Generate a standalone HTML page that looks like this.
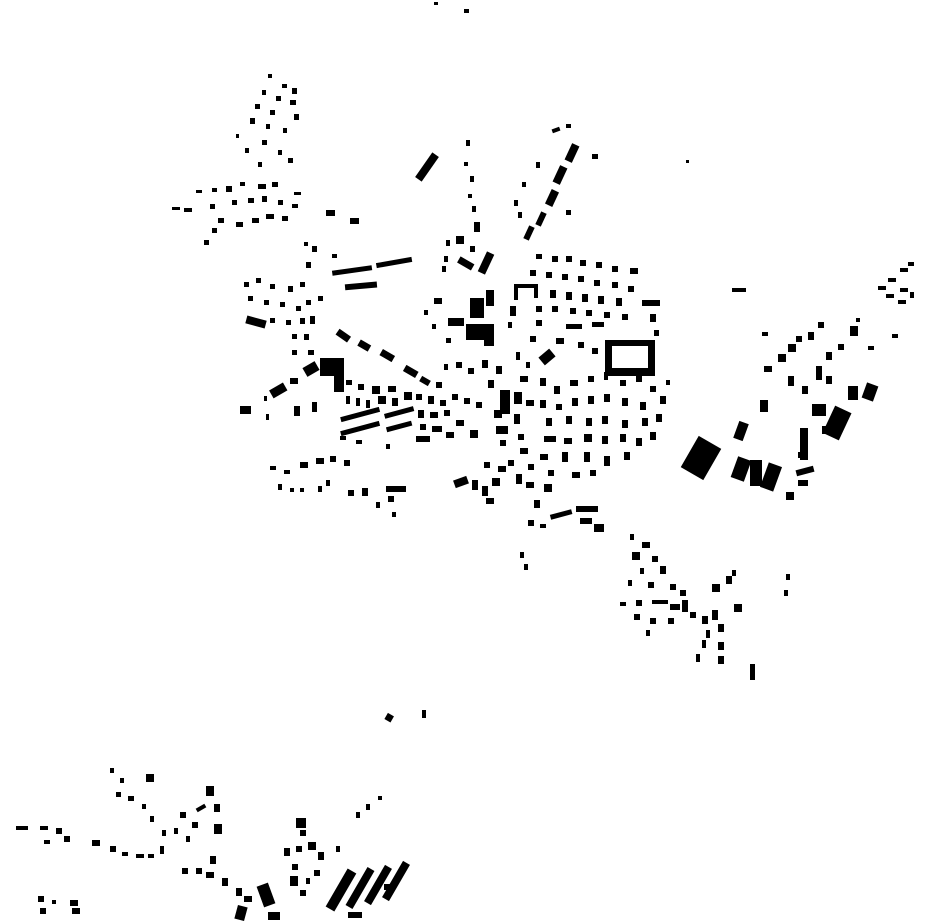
<!DOCTYPE html>
<html><head><meta charset="utf-8"><style>html,body{margin:0;padding:0;background:#fff}svg{display:block}</style></head>
<body>
<svg width="930" height="924" viewBox="0 0 930 924" xmlns="http://www.w3.org/2000/svg" fill="#000">
<!-- top -->
<rect x="434" y="2" width="4" height="3"/><rect x="464" y="9" width="5" height="4"/>
<!-- NW cluster -->
<g>
<rect x="268" y="74" width="4" height="4"/><rect x="282" y="84" width="5" height="4"/><rect x="292" y="88" width="5" height="6"/>
<rect x="262" y="90" width="4" height="5"/><rect x="276" y="96" width="5" height="5"/><rect x="290" y="100" width="6" height="5"/>
<rect x="255" y="104" width="5" height="5"/><rect x="270" y="110" width="5" height="5"/><rect x="294" y="114" width="5" height="6"/>
<rect x="250" y="118" width="5" height="6"/><rect x="266" y="124" width="4" height="5"/><rect x="283" y="128" width="4" height="5"/>
<rect x="245" y="148" width="4" height="5"/><rect x="262" y="140" width="5" height="5"/><rect x="278" y="150" width="4" height="5"/>
<rect x="258" y="162" width="4" height="5"/><rect x="288" y="158" width="5" height="5"/><rect x="236" y="134" width="3" height="4"/>
<rect x="172" y="207" width="8" height="3"/><rect x="184" y="208" width="8" height="4"/><rect x="196" y="190" width="6" height="3"/>
<rect x="212" y="188" width="5" height="4"/><rect x="226" y="186" width="6" height="6"/><rect x="240" y="182" width="5" height="4"/>
<rect x="258" y="184" width="8" height="5"/><rect x="272" y="182" width="6" height="5"/><rect x="294" y="192" width="7" height="3"/>
<rect x="210" y="204" width="5" height="5"/><rect x="232" y="200" width="5" height="5"/><rect x="248" y="198" width="6" height="5"/>
<rect x="262" y="196" width="5" height="6"/><rect x="278" y="200" width="5" height="5"/><rect x="292" y="204" width="6" height="4"/>
<rect x="218" y="218" width="6" height="5"/><rect x="236" y="222" width="7" height="5"/><rect x="252" y="218" width="7" height="5"/>
<rect x="266" y="214" width="8" height="5"/><rect x="282" y="216" width="6" height="5"/><rect x="204" y="240" width="5" height="5"/>
<rect x="212" y="228" width="5" height="5"/><rect x="326" y="210" width="9" height="6"/><rect x="350" y="218" width="9" height="6"/>
</g>
<!-- west central -->
<g>
<rect x="304" y="242" width="4" height="4"/><rect x="312" y="246" width="5" height="6"/><rect x="306" y="262" width="5" height="6"/>
<rect x="332" y="254" width="5" height="4"/><rect x="332" y="268" width="40" height="5" transform="rotate(-8 352 270)"/>
<rect x="376" y="260" width="36" height="5" transform="rotate(-10 394 262)"/><rect x="345" y="283" width="32" height="6" transform="rotate(-5 360 286)"/>
<rect x="244" y="282" width="5" height="5"/><rect x="256" y="278" width="5" height="5"/><rect x="270" y="284" width="5" height="5"/>
<rect x="288" y="286" width="5" height="6"/><rect x="300" y="282" width="5" height="5"/><rect x="318" y="296" width="5" height="5"/>
<rect x="248" y="296" width="5" height="5"/><rect x="264" y="300" width="5" height="5"/><rect x="280" y="302" width="5" height="5"/>
<rect x="296" y="306" width="5" height="5"/><rect x="306" y="300" width="5" height="5"/><rect x="246" y="318" width="20" height="8" transform="rotate(15 256 322)"/>
<rect x="270" y="318" width="5" height="5"/><rect x="286" y="320" width="5" height="5"/><rect x="300" y="318" width="5" height="6"/>
<rect x="310" y="316" width="5" height="8"/><rect x="292" y="334" width="5" height="5"/><rect x="304" y="334" width="5" height="6"/>
<rect x="292" y="350" width="5" height="5"/><rect x="308" y="350" width="6" height="5"/><rect x="336" y="332" width="14" height="7" transform="rotate(35 343 336)"/>
<rect x="358" y="342" width="12" height="7" transform="rotate(30 364 346)"/><rect x="380" y="352" width="14" height="7" transform="rotate(30 387 356)"/>
<rect x="320" y="358" width="24" height="18"/><rect x="334" y="374" width="10" height="18"/><rect x="304" y="364" width="14" height="10" transform="rotate(-30 311 369)"/>
<rect x="270" y="386" width="16" height="9" transform="rotate(-30 278 390)"/><rect x="290" y="378" width="8" height="6"/>
<rect x="240" y="406" width="11" height="8"/><rect x="266" y="414" width="3" height="6"/><rect x="294" y="406" width="6" height="10"/>
<rect x="312" y="402" width="5" height="10"/><rect x="264" y="396" width="3" height="5"/>
</g>
<!-- centre dense -->
<g>
<rect x="346" y="380" width="6" height="5"/><rect x="358" y="384" width="6" height="6"/><rect x="372" y="386" width="8" height="8"/>
<rect x="388" y="386" width="8" height="6"/><rect x="404" y="368" width="14" height="7" transform="rotate(30 411 371)"/>
<rect x="420" y="378" width="10" height="6" transform="rotate(30 425 381)"/><rect x="436" y="382" width="6" height="6"/>
<rect x="346" y="396" width="4" height="8"/><rect x="356" y="398" width="4" height="8"/><rect x="366" y="400" width="4" height="8"/>
<rect x="378" y="396" width="8" height="8"/><rect x="392" y="398" width="6" height="8"/><rect x="404" y="392" width="8" height="8"/>
<rect x="416" y="394" width="6" height="6"/><rect x="428" y="396" width="6" height="8"/><rect x="440" y="400" width="6" height="6"/>
<rect x="452" y="394" width="6" height="6"/><rect x="464" y="398" width="6" height="6"/><rect x="476" y="402" width="6" height="6"/>
<rect x="340" y="412" width="40" height="5" transform="rotate(-15 360 414)"/><rect x="384" y="410" width="30" height="5" transform="rotate(-15 399 412)"/>
<rect x="418" y="410" width="6" height="8"/><rect x="430" y="412" width="8" height="6"/><rect x="444" y="410" width="6" height="6"/>
<rect x="340" y="426" width="40" height="5" transform="rotate(-15 360 428)"/><rect x="386" y="424" width="26" height="5" transform="rotate(-15 399 426)"/>
<rect x="420" y="424" width="6" height="6"/><rect x="432" y="426" width="10" height="6"/><rect x="456" y="420" width="8" height="6"/>
<rect x="340" y="436" width="6" height="4"/><rect x="356" y="440" width="6" height="4"/><rect x="416" y="436" width="14" height="6"/>
<rect x="446" y="432" width="8" height="6"/><rect x="470" y="430" width="8" height="8"/><rect x="386" y="444" width="4" height="5"/>
<rect x="444" y="364" width="4" height="6"/><rect x="456" y="362" width="6" height="6"/><rect x="468" y="368" width="6" height="6"/>
<rect x="482" y="360" width="6" height="8"/><rect x="496" y="366" width="6" height="8"/><rect x="488" y="380" width="6" height="8"/>
<rect x="500" y="390" width="10" height="24"/><rect x="494" y="410" width="8" height="8"/><rect x="514" y="392" width="8" height="12"/>
<rect x="496" y="426" width="12" height="8"/><rect x="514" y="414" width="6" height="10"/><rect x="526" y="400" width="8" height="6"/>
<rect x="500" y="440" width="6" height="6"/><rect x="518" y="434" width="6" height="6"/><rect x="540" y="352" width="14" height="10" transform="rotate(-40 547 357)"/>
<rect x="516" y="352" width="4" height="8"/><rect x="526" y="362" width="4" height="6"/><rect x="520" y="376" width="8" height="6"/>
</g>
<!-- north central -->
<g>
<rect x="423" y="152" width="8" height="30" transform="rotate(35 427 167)"/><rect x="466" y="140" width="4" height="6"/>
<rect x="464" y="162" width="4" height="4"/><rect x="470" y="176" width="4" height="6"/><rect x="468" y="194" width="4" height="4"/>
<rect x="472" y="206" width="4" height="6"/><rect x="474" y="222" width="6" height="10"/><rect x="456" y="236" width="8" height="8"/>
<rect x="446" y="240" width="4" height="6"/><rect x="444" y="256" width="4" height="6"/><rect x="442" y="266" width="4" height="6"/>
<rect x="458" y="260" width="16" height="7" transform="rotate(30 466 263)"/><rect x="482" y="252" width="8" height="22" transform="rotate(25 486 263)"/>
<rect x="470" y="246" width="5" height="6"/><rect x="434" y="298" width="8" height="6"/><rect x="424" y="310" width="4" height="5"/>
<rect x="470" y="298" width="14" height="20"/><rect x="486" y="290" width="8" height="16"/><rect x="448" y="318" width="16" height="8"/>
<rect x="466" y="324" width="28" height="16"/><rect x="484" y="334" width="10" height="12"/><rect x="446" y="338" width="5" height="5"/>
<rect x="432" y="324" width="4" height="5"/><rect x="510" y="306" width="6" height="10"/><rect x="508" y="322" width="4" height="6"/>
<rect x="552" y="128" width="8" height="4" transform="rotate(-20 556 130)"/><rect x="566" y="124" width="5" height="4"/>
<rect x="568" y="144" width="8" height="18" transform="rotate(25 572 153)"/><rect x="592" y="154" width="6" height="5"/>
<rect x="556" y="166" width="8" height="18" transform="rotate(25 560 175)"/><rect x="548" y="190" width="8" height="16" transform="rotate(25 552 198)"/>
<rect x="538" y="212" width="6" height="14" transform="rotate(25 541 219)"/><rect x="526" y="226" width="6" height="14" transform="rotate(25 529 233)"/>
<rect x="536" y="162" width="4" height="6"/><rect x="522" y="182" width="4" height="5"/><rect x="514" y="200" width="4" height="6"/>
<rect x="518" y="212" width="4" height="6"/><rect x="566" y="210" width="5" height="5"/><rect x="686" y="160" width="3" height="3"/>
</g>
<!-- NE of centre grid -->
<g>
<rect x="536" y="254" width="6" height="5"/><rect x="552" y="256" width="6" height="6"/><rect x="566" y="256" width="6" height="6"/>
<rect x="580" y="260" width="6" height="6"/><rect x="596" y="262" width="6" height="6"/><rect x="612" y="266" width="6" height="6"/>
<rect x="630" y="268" width="8" height="6"/><rect x="530" y="270" width="6" height="6"/><rect x="546" y="272" width="6" height="6"/>
<rect x="562" y="274" width="6" height="6"/><rect x="578" y="276" width="6" height="6"/><rect x="594" y="280" width="6" height="6"/>
<rect x="612" y="282" width="6" height="6"/><rect x="628" y="286" width="6" height="6"/><rect x="514" y="284" width="24" height="4"/>
<rect x="514" y="284" width="4" height="16"/><rect x="534" y="284" width="4" height="14"/><rect x="550" y="290" width="6" height="8"/>
<rect x="566" y="292" width="6" height="8"/><rect x="582" y="294" width="6" height="8"/><rect x="598" y="296" width="6" height="8"/>
<rect x="616" y="298" width="6" height="8"/><rect x="642" y="300" width="18" height="6"/><rect x="536" y="306" width="6" height="6"/>
<rect x="552" y="306" width="6" height="6"/><rect x="570" y="308" width="6" height="6"/><rect x="586" y="310" width="6" height="6"/>
<rect x="604" y="312" width="6" height="6"/><rect x="622" y="314" width="6" height="6"/><rect x="650" y="314" width="6" height="8"/>
<rect x="536" y="320" width="6" height="6"/><rect x="566" y="324" width="16" height="5"/><rect x="592" y="322" width="12" height="5"/>
<rect x="530" y="336" width="6" height="6"/><rect x="556" y="338" width="8" height="6"/><rect x="578" y="342" width="6" height="6"/>
<rect x="592" y="348" width="6" height="6"/><rect x="654" y="330" width="5" height="6"/><rect x="732" y="288" width="14" height="4"/>
<path d="M605 340h50v36h-50zM612 346v22h36v-22z" fill-rule="evenodd"/>
</g>
<!-- SE of centre -->
<g>
<rect x="540" y="378" width="6" height="8"/><rect x="554" y="386" width="6" height="8"/><rect x="570" y="380" width="8" height="6"/>
<rect x="588" y="376" width="6" height="6"/><rect x="604" y="372" width="4" height="8"/><rect x="620" y="380" width="6" height="6"/>
<rect x="636" y="376" width="6" height="6"/><rect x="650" y="386" width="6" height="6"/><rect x="666" y="380" width="4" height="5"/>
<rect x="540" y="400" width="6" height="8"/><rect x="556" y="404" width="6" height="6"/><rect x="572" y="398" width="6" height="8"/>
<rect x="588" y="396" width="6" height="8"/><rect x="604" y="394" width="6" height="8"/><rect x="622" y="398" width="6" height="8"/>
<rect x="640" y="402" width="6" height="8"/><rect x="660" y="396" width="6" height="8"/><rect x="546" y="418" width="6" height="8"/>
<rect x="566" y="416" width="6" height="8"/><rect x="586" y="418" width="6" height="8"/><rect x="602" y="416" width="6" height="8"/>
<rect x="622" y="420" width="6" height="8"/><rect x="642" y="418" width="6" height="8"/><rect x="656" y="414" width="6" height="8"/>
<rect x="544" y="436" width="12" height="6"/><rect x="564" y="438" width="8" height="6"/><rect x="584" y="434" width="8" height="8"/>
<rect x="602" y="436" width="6" height="8"/><rect x="620" y="434" width="6" height="8"/><rect x="636" y="438" width="6" height="8"/>
<rect x="650" y="432" width="6" height="8"/><rect x="540" y="454" width="8" height="6"/><rect x="562" y="452" width="6" height="10"/>
<rect x="584" y="452" width="6" height="10"/><rect x="604" y="456" width="6" height="10"/><rect x="624" y="452" width="6" height="8"/>
<rect x="520" y="448" width="8" height="6"/><rect x="528" y="464" width="6" height="6"/><rect x="548" y="470" width="6" height="6"/>
<rect x="572" y="472" width="8" height="6"/><rect x="590" y="470" width="6" height="6"/><rect x="484" y="462" width="6" height="6"/>
<rect x="498" y="466" width="8" height="6"/><rect x="508" y="460" width="6" height="6"/><rect x="454" y="478" width="14" height="8" transform="rotate(-20 461 482)"/>
<rect x="472" y="480" width="6" height="10"/><rect x="482" y="486" width="6" height="10"/><rect x="492" y="478" width="8" height="8"/>
<rect x="486" y="498" width="8" height="6"/><rect x="516" y="474" width="6" height="10"/><rect x="526" y="482" width="8" height="6"/>
<rect x="544" y="484" width="8" height="8"/><rect x="534" y="500" width="6" height="8"/><rect x="550" y="512" width="22" height="5" transform="rotate(-15 561 514)"/>
<rect x="576" y="506" width="22" height="6"/><rect x="580" y="518" width="12" height="6"/><rect x="594" y="524" width="10" height="8"/>
<rect x="528" y="520" width="6" height="6"/><rect x="540" y="524" width="6" height="4"/><rect x="520" y="552" width="4" height="6"/>
<rect x="524" y="564" width="4" height="6"/>
</g>
<!-- SW of centre -->
<g>
<rect x="270" y="466" width="6" height="4"/><rect x="284" y="470" width="6" height="4"/><rect x="300" y="462" width="8" height="6"/>
<rect x="316" y="458" width="8" height="6"/><rect x="330" y="456" width="6" height="6"/><rect x="344" y="460" width="6" height="6"/>
<rect x="278" y="484" width="4" height="6"/><rect x="290" y="488" width="4" height="4"/><rect x="300" y="488" width="4" height="4"/>
<rect x="318" y="486" width="4" height="6"/><rect x="326" y="480" width="4" height="6"/><rect x="348" y="490" width="6" height="6"/>
<rect x="362" y="488" width="6" height="8"/><rect x="386" y="486" width="20" height="6"/><rect x="388" y="496" width="6" height="6"/>
<rect x="376" y="502" width="4" height="6"/><rect x="392" y="512" width="4" height="5"/>
</g>
<!-- east -->
<g>
<rect x="688" y="440" width="26" height="36" transform="rotate(30 701 458)"/><rect x="736" y="422" width="10" height="18" transform="rotate(20 741 431)"/>
<rect x="734" y="458" width="14" height="22" transform="rotate(20 741 469)"/><rect x="750" y="460" width="12" height="26"/>
<rect x="764" y="464" width="14" height="26" transform="rotate(20 771 477)"/><rect x="760" y="400" width="8" height="12"/>
<rect x="762" y="332" width="6" height="4"/><rect x="764" y="366" width="8" height="6"/><rect x="778" y="354" width="8" height="8"/>
<rect x="788" y="344" width="8" height="8"/><rect x="796" y="336" width="6" height="6"/><rect x="808" y="332" width="6" height="8"/>
<rect x="818" y="322" width="6" height="6"/><rect x="788" y="376" width="6" height="10"/><rect x="802" y="386" width="6" height="8"/>
<rect x="816" y="366" width="6" height="14"/><rect x="826" y="352" width="6" height="8"/><rect x="838" y="344" width="6" height="6"/>
<rect x="850" y="326" width="8" height="10"/><rect x="856" y="318" width="4" height="4"/><rect x="868" y="346" width="6" height="4"/>
<rect x="892" y="334" width="6" height="4"/><rect x="826" y="376" width="6" height="8"/><rect x="812" y="404" width="14" height="12"/>
<rect x="800" y="428" width="8" height="32"/><rect x="828" y="408" width="18" height="30" transform="rotate(25 837 423)"/>
<rect x="848" y="386" width="10" height="14"/><rect x="864" y="384" width="12" height="16" transform="rotate(20 870 392)"/>
<rect x="822" y="426" width="4" height="8"/><rect x="796" y="468" width="18" height="6" transform="rotate(-15 805 471)"/>
<rect x="798" y="480" width="10" height="6"/><rect x="786" y="492" width="8" height="8"/><rect x="798" y="452" width="8" height="6"/>
<rect x="878" y="286" width="8" height="4"/><rect x="888" y="278" width="8" height="4"/><rect x="900" y="268" width="8" height="4"/>
<rect x="908" y="262" width="6" height="4"/><rect x="886" y="294" width="8" height="4"/><rect x="900" y="288" width="8" height="4"/>
<rect x="898" y="300" width="8" height="4"/><rect x="910" y="292" width="4" height="6"/>
</g>
<!-- SE cluster -->
<g>
<rect x="630" y="534" width="4" height="6"/><rect x="642" y="542" width="8" height="6"/><rect x="632" y="552" width="8" height="8"/>
<rect x="652" y="556" width="6" height="6"/><rect x="660" y="566" width="6" height="8"/><rect x="640" y="568" width="4" height="6"/>
<rect x="628" y="580" width="4" height="6"/><rect x="648" y="582" width="6" height="6"/><rect x="670" y="584" width="6" height="6"/>
<rect x="680" y="590" width="6" height="6"/><rect x="620" y="602" width="6" height="4"/><rect x="636" y="600" width="6" height="6"/>
<rect x="652" y="600" width="16" height="4"/><rect x="670" y="604" width="10" height="6"/><rect x="682" y="600" width="6" height="12"/>
<rect x="634" y="614" width="6" height="6"/><rect x="650" y="618" width="6" height="6"/><rect x="668" y="618" width="6" height="6"/>
<rect x="646" y="630" width="4" height="6"/><rect x="690" y="612" width="6" height="6"/><rect x="702" y="616" width="6" height="8"/>
<rect x="712" y="610" width="6" height="10"/><rect x="712" y="584" width="8" height="8"/><rect x="726" y="576" width="6" height="8"/>
<rect x="732" y="570" width="4" height="6"/><rect x="734" y="604" width="8" height="8"/><rect x="706" y="630" width="4" height="8"/>
<rect x="718" y="624" width="6" height="8"/><rect x="702" y="640" width="4" height="8"/><rect x="718" y="642" width="6" height="8"/>
<rect x="696" y="654" width="4" height="8"/><rect x="718" y="656" width="6" height="8"/><rect x="750" y="664" width="5" height="16"/>
<rect x="786" y="574" width="4" height="6"/><rect x="784" y="590" width="4" height="6"/><rect x="386" y="714" width="7" height="7" transform="rotate(30 389 717)"/>
<rect x="422" y="710" width="4" height="8"/>
</g>
<!-- bottom-left -->
<g>
<rect x="110" y="768" width="4" height="5"/><rect x="120" y="778" width="4" height="5"/><rect x="146" y="774" width="8" height="8"/>
<rect x="116" y="792" width="5" height="5"/><rect x="128" y="796" width="6" height="5"/><rect x="142" y="804" width="4" height="5"/>
<rect x="206" y="786" width="8" height="10"/><rect x="196" y="806" width="10" height="4" transform="rotate(-30 201 808)"/>
<rect x="214" y="804" width="6" height="8"/><rect x="180" y="812" width="6" height="6"/><rect x="192" y="822" width="6" height="6"/>
<rect x="214" y="824" width="8" height="10"/><rect x="174" y="828" width="4" height="6"/><rect x="186" y="836" width="4" height="6"/>
<rect x="150" y="816" width="4" height="6"/><rect x="162" y="830" width="4" height="6"/><rect x="160" y="846" width="4" height="8"/>
<rect x="16" y="826" width="12" height="4"/><rect x="40" y="826" width="8" height="4"/><rect x="56" y="828" width="6" height="6"/>
<rect x="44" y="840" width="6" height="4"/><rect x="64" y="836" width="6" height="6"/><rect x="92" y="840" width="8" height="6"/>
<rect x="110" y="846" width="6" height="6"/><rect x="122" y="852" width="6" height="4"/><rect x="136" y="854" width="8" height="4"/>
<rect x="148" y="854" width="6" height="4"/><rect x="38" y="896" width="6" height="6"/><rect x="52" y="900" width="4" height="4"/>
<rect x="40" y="908" width="6" height="6"/><rect x="70" y="900" width="8" height="6"/><rect x="72" y="908" width="8" height="6"/>
<rect x="210" y="856" width="6" height="8"/><rect x="196" y="868" width="6" height="6"/><rect x="182" y="868" width="6" height="6"/>
<rect x="206" y="872" width="8" height="6"/><rect x="222" y="878" width="6" height="8"/><rect x="236" y="888" width="6" height="8"/>
<rect x="244" y="896" width="8" height="6"/><rect x="236" y="906" width="10" height="14" transform="rotate(15 241 913)"/>
<rect x="260" y="884" width="12" height="22" transform="rotate(-20 266 895)"/><rect x="268" y="912" width="12" height="8"/>
<rect x="284" y="848" width="6" height="8"/><rect x="296" y="846" width="6" height="6"/><rect x="308" y="842" width="8" height="8"/>
<rect x="318" y="852" width="6" height="8"/><rect x="296" y="818" width="10" height="10"/><rect x="300" y="830" width="6" height="6"/>
<rect x="292" y="864" width="6" height="6"/><rect x="290" y="876" width="8" height="10"/><rect x="300" y="890" width="6" height="6"/>
<rect x="314" y="870" width="6" height="6"/><rect x="306" y="878" width="4" height="6"/><rect x="336" y="846" width="4" height="6"/>
<rect x="356" y="812" width="4" height="6"/><rect x="366" y="804" width="4" height="6"/><rect x="378" y="796" width="4" height="4"/>
<rect x="336" y="868" width="10" height="44" transform="rotate(30 341 890)"/><rect x="356" y="866" width="8" height="44" transform="rotate(30 360 888)"/>
<rect x="374" y="864" width="8" height="42" transform="rotate(30 378 885)"/><rect x="392" y="860" width="8" height="42" transform="rotate(30 396 881)"/>
<rect x="348" y="912" width="14" height="6"/><rect x="384" y="884" width="8" height="6"/>
</g>
</svg>
</body></html>
